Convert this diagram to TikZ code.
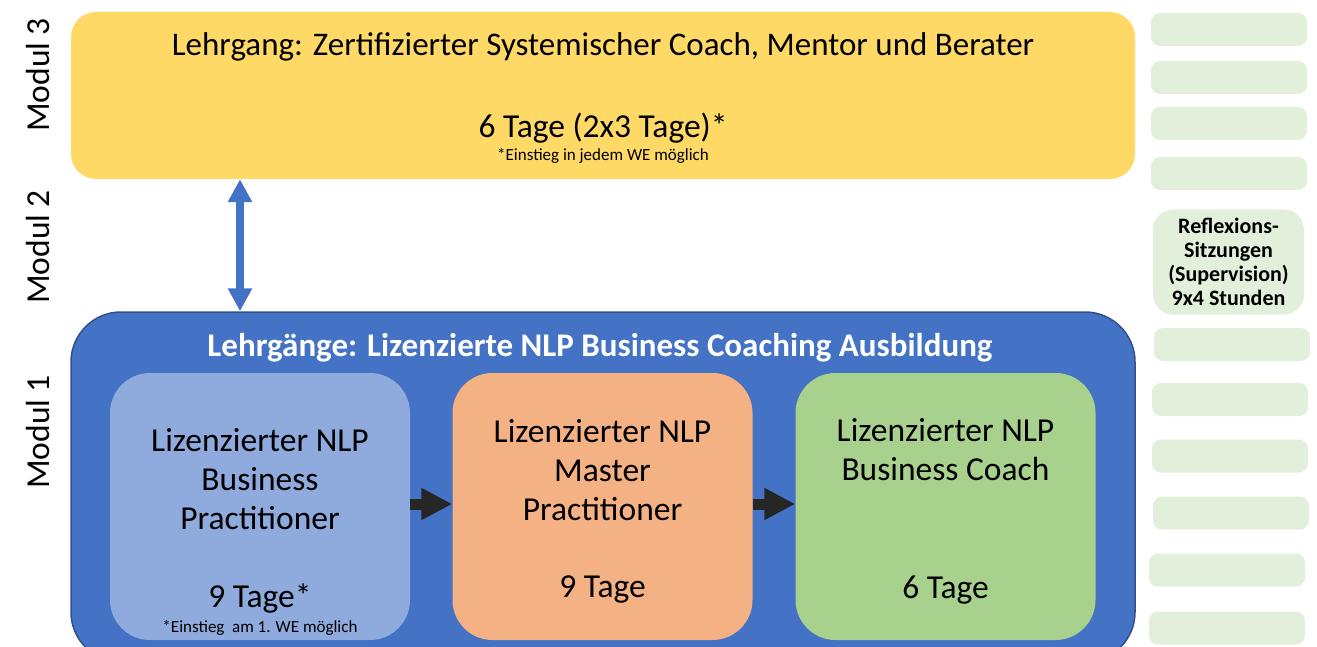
\documentclass[tikz,border=0pt]{standalone}
\usepackage{fontspec}
\setmainfont{Carlito}
\usetikzlibrary{arrows.meta}
\definecolor{modyellow}{HTML}{FFD966}
\definecolor{modblue}{HTML}{4472C4}
\definecolor{modblueline}{HTML}{2F528F}
\definecolor{practblue}{HTML}{8FAADC}
\definecolor{masterorange}{HTML}{F4B183}
\definecolor{coachgreen}{HTML}{A9D18E}
\definecolor{palegreen}{HTML}{E2EFDA}
\definecolor{arrowblack}{HTML}{262626}
\newcommand{\bigtext}{\fontsize{33.5}{39}\selectfont}
\newcommand{\smalltext}{\fontsize{17}{20}\selectfont}
\begin{document}
\begin{tikzpicture}[x=1pt,y=-1pt,
  box/.style={inner sep=0pt},
  course/.style={box,minimum width=300pt,minimum height=267pt,rounded corners=40pt},
  slot/.style={box,fill=palegreen,minimum width=156pt,minimum height=33pt,rounded corners=9pt},
  txt/.style={inner sep=0pt,align=center,text=black}]
\clip (0,0) rectangle (1317,647);
% Modul labels
\node[txt,rotate=90,font=\bigtext] (lab3) at (38,75) {Modul 3};
\node[txt,rotate=90,font=\bigtext] (lab2) at (38,247) {Modul 2};
\node[txt,rotate=90,font=\bigtext] (lab1) at (38,432) {Modul 1};
% Modul 3
\node[box,fill=modyellow,minimum width=1064pt,minimum height=167pt,rounded corners=25pt] (m3) at (603,95.5) {};
\node[txt,font=\fontsize{33}{39}\selectfont] (m3title) at (603,47) {Lehrgang: Zertifizierter Systemischer Coach, Mentor und Berater};
\node[txt,font=\bigtext] (m3days) at (603,128) {6 Tage (2x3 Tage)*};
\node[txt,font=\smalltext] (m3note) at (603,156) {*Einstieg in jedem WE möglich};
% Modul 1
\node[box,fill=modblue,draw=modblueline,line width=1.5pt,minimum width=1064pt,minimum height=350pt,rounded corners=50pt] (m1) at (603,487) {};
\node[txt,text=white,font=\fontsize{33}{39}\selectfont\bfseries] (m1title) at (600,348) {Lehrgänge: Lizenzierte NLP Business Coaching Ausbildung};
\node[course,fill=practblue] (p1) at (260,506.5) {};
\node[course,fill=masterorange] (p2) at (602.5,506.5) {};
\node[course,fill=coachgreen] (p3) at (945.5,506.5) {};
\node[txt,font=\bigtext] (p1name) at (260,479) {Lizenzierter NLP\\Business\\Practitioner};
\node[txt,font=\bigtext] (p1days) at (260,598) {9 Tage*};
\node[txt,font=\smalltext] (p1note) at (260,628) {*Einstieg\ \ am 1. WE möglich};
\node[txt,font=\bigtext] (p2name) at (602.5,470) {Lizenzierter NLP\\Master\\Practitioner};
\node[txt,font=\bigtext] (p2days) at (602.5,590) {9 Tage};
\node[txt,font=\bigtext] (p3name) at (945.5,450) {Lizenzierter NLP\\Business Coach};
\node[txt,font=\bigtext] (p3days) at (945.5,590) {6 Tage};
% Pfeile
\coordinate (ax) at (240,0);
\draw[modblue,line width=8pt,{Triangle[width=23pt,length=23pt]}-{Triangle[width=23pt,length=23pt]}] (m3.south -| ax) -- (m1.north -| ax);
\draw[arrowblack,line width=11pt,-{Triangle[width=30pt,length=31pt]}] ([yshift=2.5pt]p1.east) -- ([yshift=2.5pt]p2.west);
\draw[arrowblack,line width=11pt,-{Triangle[width=30pt,length=31pt]}] ([yshift=2.5pt]p2.east) -- ([yshift=2.5pt]p3.west);
% Reflexions-Sitzungen
\node[slot] (s1) at (1229,29.5) {};
\node[slot] (s2) at (1229,77.5) {};
\node[slot] (s3) at (1229,123.5) {};
\node[slot] (s4) at (1229,173.5) {};
\node[box,fill=palegreen,minimum width=151pt,minimum height=105pt,rounded corners=20pt,
  align=center,font=\fontsize{22}{24}\selectfont\bfseries] (refl) at (1228.5,262) {Reflexions-\\Sitzungen\\(Supervision)\\9x4 Stunden};
\node[slot] (s6) at (1232,344.5) {};
\node[slot] (s7) at (1230,399.5) {};
\node[slot] (s8) at (1230,456) {};
\node[slot] (s9) at (1231,513) {};
\node[slot] (s10) at (1227,570) {};
\node[slot] (s11) at (1227,628) {};
\end{tikzpicture}
\end{document}
